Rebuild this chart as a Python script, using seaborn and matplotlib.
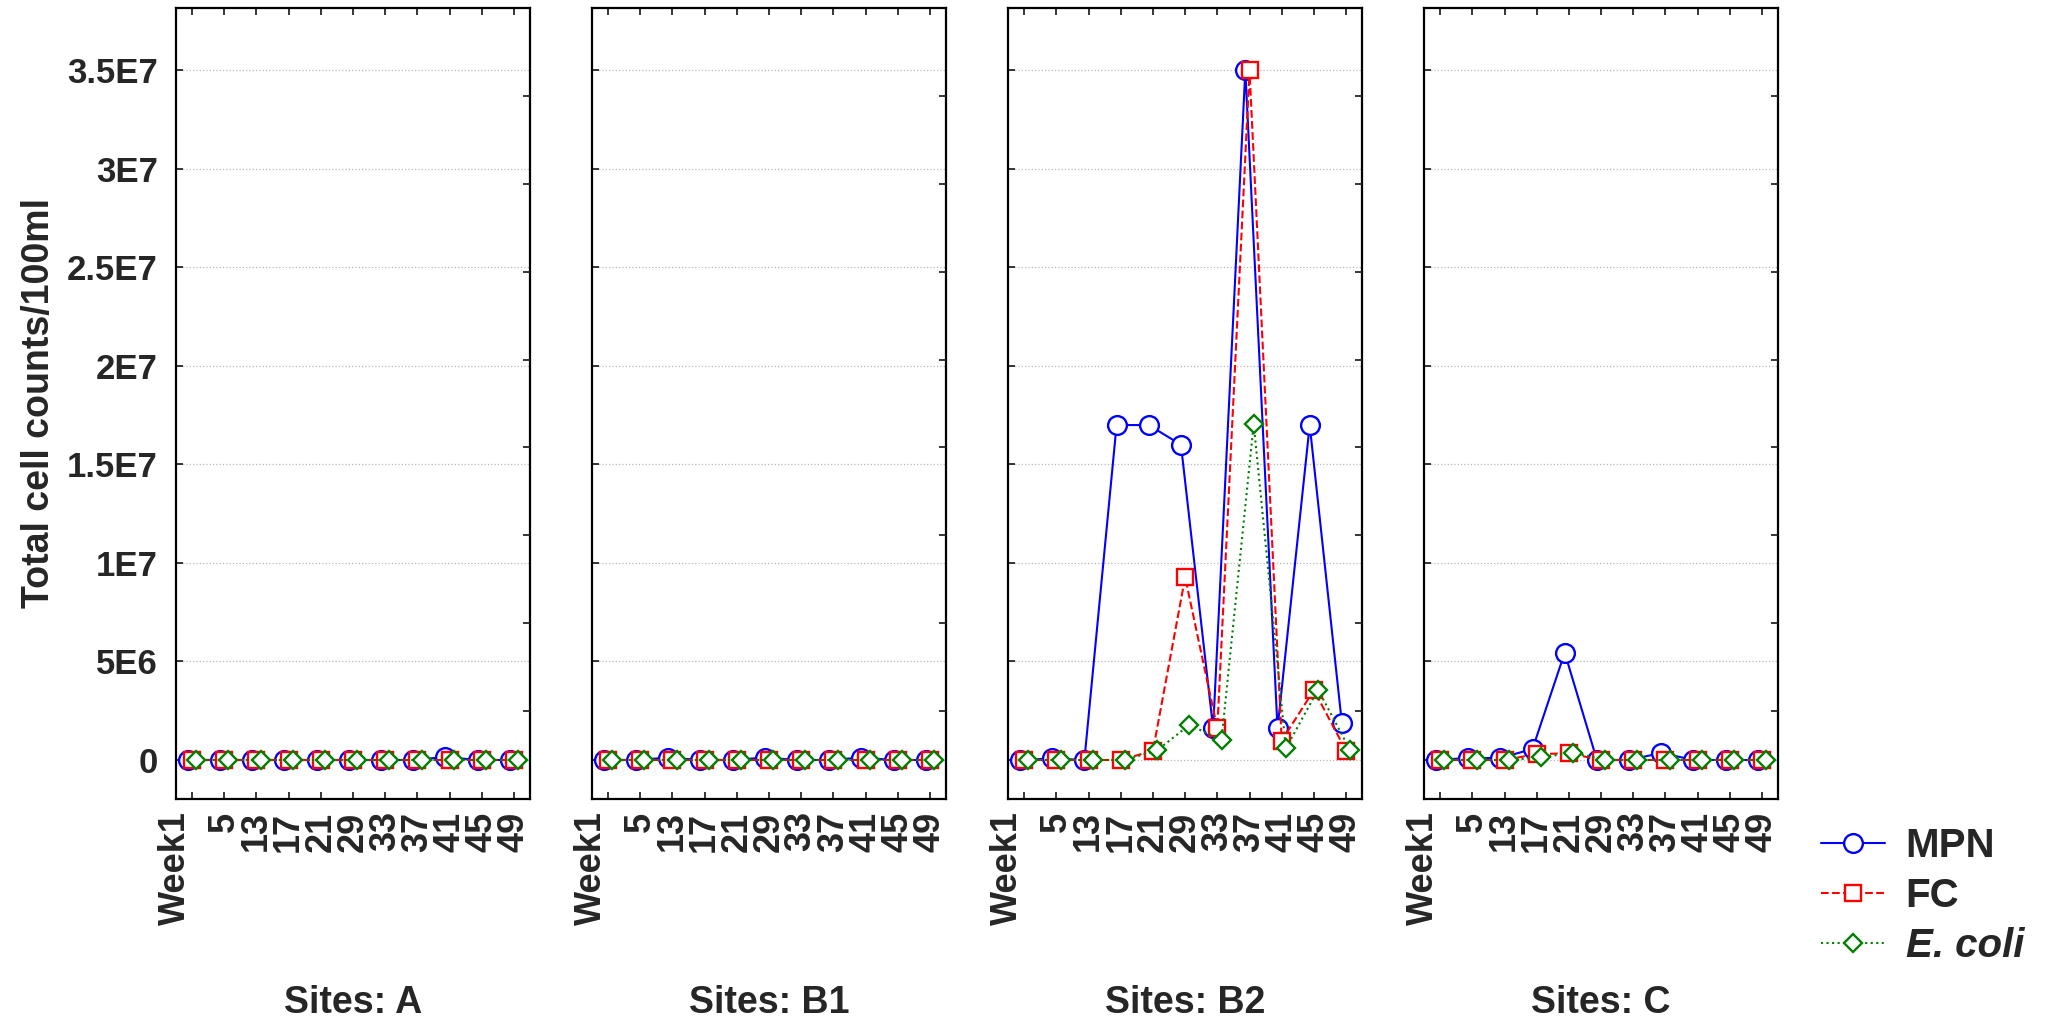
import pandas as pd
import matplotlib
matplotlib.use("Agg")
import matplotlib.pyplot as plt
import matplotlib.transforms as mtransforms
import seaborn as sns

# weeks sampled (categorical x axis)
weeks = ['Week1', '5', '13', '17', '21', '29', '33', '37', '41', '45', '49']
sites = ['A', 'B1', 'B2', 'C']
series_names = ['MPN', 'FC', 'E. coli']

# Site A
mpn_a = [0, 0, 0, 0, 0, 0, 0, 0, 1.5e5, 0, 0]
fc_a = [0, 0, 0, 0, 0, 0, 0, 0, 0, 0, 0]
ecoli_a = [0, 0, 0, 0, 0, 0, 0, 0, 0, 0, 0]

# Site B1
mpn_b1 = [0, 0, 1.2e5, 0, 0, 1.2e5, 0, 0, 1.2e5, 0, 0]
fc_b1 = [0, 0, 0, 0, 0, 0, 0, 0, 0, 0, 0]
ecoli_b1 = [0, 0, 0, 0, 0, 0, 0, 0, 0, 0, 0]

# Site B2
mpn_b2 = [0, 8e4, 0, 1.70e7, 1.70e7, 1.60e7, 1.6e6, 3.5e7, 1.6e6, 1.70e7, 1.86e6]
fc_b2 = [0, 0, 0, 0, 4.7e5, 9.27e6, 1.6e6, 3.5e7, 9.8e5, 3.55e6, 4.7e5]
ecoli_b2 = [0, 0, 0, 0, 4.9e5, 1.78e6, 1.02e6, 1.706e7, 5.9e5, 3.57e6, 4.9e5]

# Site C
mpn_c = [0, 1e5, 1e5, 5.6e5, 5.45e6, 0, 0, 3.6e5, 0, 0, 0]
fc_c = [0, 0, 0, 3e5, 3.4e5, 0, 0, 0, 0, 0, 0]
ecoli_c = [0, 0, 0, 1.3e5, 3.7e5, 0, 0, 0, 0, 0, 0]

site_data = {
    'A': [mpn_a, fc_a, ecoli_a],
    'B1': [mpn_b1, fc_b1, ecoli_b1],
    'B2': [mpn_b2, fc_b2, ecoli_b2],
    'C': [mpn_c, fc_c, ecoli_c],
}

y_ticks = [0, 5e6, 1e7, 1.5e7, 2e7, 2.5e7, 3e7, 3.5e7]
y_tick_labels = ['0', '5E6', '1E7', '1.5E7', '2E7', '2.5E7', '3E7', '3.5E7']

rows = []
for site in sites:
    for name, vals in zip(series_names, site_data[site]):
        for w, v in zip(weeks, vals):
            rows.append({'site': site, 'series': name, 'week': w, 'count': v})
df = pd.DataFrame(rows)

sns.set_style("white")
plt.rcParams['font.family'] = ['Liberation Sans', 'DejaVu Sans']
plt.rcParams['font.weight'] = 'bold'

palette = {'MPN': '#0000ff', 'FC': '#ff0000', 'E. coli': '#008000'}
marker_sizes = {'o': 13.5, 's': 12, 'D': 9.5}

fig = plt.figure(figsize=(20.49, 10.22), dpi=100)

lefts = [0.0859, 0.2889, 0.4920, 0.6950]
bottom, width, height = 0.2182, 0.1728, 0.774

axes = []
for i, site in enumerate(sites):
    ax = fig.add_axes([lefts[i], bottom, width, height])
    sns.pointplot(
        data=df[df['site'] == site],
        x='week',
        y='count',
        hue='series',
        order=weeks,
        hue_order=series_names,
        palette=palette,
        markers=['o', 's', 'D'],
        linestyles=['-', '--', ':'],
        dodge=0.26,
        errorbar=None,
        linewidth=1.5,
        markeredgewidth=1.7,
        markerfacecolor='white',
        legend=False,
        ax=ax
    )
    for line in ax.get_lines():
        line.set_markersize(marker_sizes.get(line.get_marker(), 10))
        line.set_markerfacecolor('white')

    ax.set_xlim(-0.5, 10.5)
    ax.set_ylim(-1.98e6, 3.817e7)
    ax.set_yticks(y_ticks)
    ax.grid(axis='y', color='#b8b8b8', linestyle=':', linewidth=0.9)
    ax.grid(axis='x', visible=False)
    ax.set_axisbelow(True)

    for spine in ax.spines.values():
        spine.set_visible(True)
        spine.set_color('black')
        spine.set_linewidth(1.6)

    ax.tick_params(axis='x', direction='in', top=True, bottom=True, length=5, width=1.3,
                   labelsize=26, pad=9, labelrotation=90)
    ax.tick_params(axis='y', direction='in', left=True, right=False, length=5, width=1.3,
                   labelsize=25, pad=13)
    ax.set_xticks(range(len(weeks)))
    ax.set_xticklabels(weeks, fontweight='bold')

    if i == 0:
        ax.set_yticklabels(y_tick_labels, fontweight='bold')
        ax.set_ylabel('Total cell counts/100ml', fontsize=27, fontweight='bold')
        ax.yaxis.set_label_coords(-0.335, 0.5)
    else:
        ax.set_yticklabels([])
        ax.set_ylabel('')

    ax.set_xlabel(f'Sites: {site}', fontsize=27, fontweight='bold')
    ax.xaxis.set_label_coords(0.5, -0.235)

    # Week1 label sits a bit left of its tick
    offset = mtransforms.ScaledTranslation(-0.17, 0, fig.dpi_scale_trans)
    first = ax.get_xticklabels()[0]
    first.set_transform(first.get_transform() + offset)

    # right-hand ticks dividing the frame in nine
    ax2 = ax.twinx()
    ax2.set_ylim(0, 9)
    ax2.set_yticks(range(1, 9))
    ax2.tick_params(axis='y', direction='in', right=True, length=5, width=1.3, labelright=False)
    ax2.grid(False)
    for spine in ax2.spines.values():
        spine.set_visible(False)

    axes.append(ax)

handles = axes[2].get_lines()[:3]
leg = fig.legend(
    handles,
    series_names,
    loc='center left',
    bbox_to_anchor=(0.8887, 0.1235),
    frameon=False,
    fontsize=29,
    handlelength=1.6,
    handletextpad=0.5,
    labelspacing=0.3,
    borderpad=0,
    borderaxespad=0,
    numpoints=1
)
for t in leg.get_texts():
    t.set_fontweight('bold')
leg.get_texts()[2].set_fontstyle('italic')

plt.savefig("out.png", dpi=100)
plt.close()
